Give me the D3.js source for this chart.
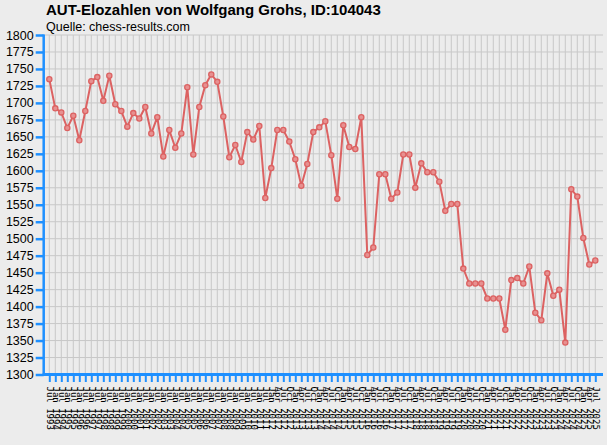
<!DOCTYPE html>
<html>
<head>
<meta charset="utf-8">
<script src="https://cdn.jsdelivr.net/npm/d3@7/dist/d3.min.js"></script>
<style>
  html, body { margin: 0; padding: 0; background: #ececec; }
  #chart { width: 607px; height: 445px; }
</style>
</head>
<body>
<div id="chart"></div>
<script>
// ==========================================================================
// DATEN
// ==========================================================================

const listen = [
  'Jul 1993',
  'Jan 1994', 'Jul 1994', 'Jan 1995', 'Jul 1995', 'Jan 1996', 'Jul 1996',
  'Jan 1997', 'Jul 1997', 'Jan 1998', 'Jul 1998', 'Jan 1999', 'Jul 1999',
  'Jan 2000', 'Jul 2000', 'Jan 2001', 'Jul 2001', 'Jan 2002', 'Jul 2002',
  'Jan 2003', 'Jul 2003', 'Jan 2004', 'Jul 2004', 'Jan 2005', 'Jul 2005',
  'Jan 2006', 'Jul 2006', 'Jan 2007', 'Jul 2007', 'Jan 2008', 'Jul 2008',
  'Jan 2009', 'Jul 2009', 'Jan 2010', 'Jul 2010', 'Jan 2011', 'Jul 2011',
  'Jan 2012', 'Apr 2012', 'Jul 2012', 'Oct 2012',
  'Jan 2013', 'Apr 2013', 'Jul 2013', 'Oct 2013',
  'Jan 2014', 'Apr 2014', 'Jul 2014', 'Oct 2014',
  'Jan 2015', 'Apr 2015', 'Jul 2015', 'Oct 2015',
  'Jan 2016', 'Apr 2016', 'Jul 2016', 'Oct 2016',
  'Jan 2017', 'Apr 2017', 'Jul 2017', 'Oct 2017',
  'Jan 2018', 'Apr 2018', 'Jul 2018', 'Oct 2018',
  'Jan 2019', 'Apr 2019', 'Jul 2019', 'Oct 2019',
  'Jan 2020', 'Apr 2020', 'Jul 2020', 'Oct 2020',
  'Jan 2021', 'Apr 2021', 'Jul 2021', 'Oct 2021',
  'Jan 2022', 'Apr 2022', 'Jul 2022', 'Oct 2022',
  'Jan 2023', 'Apr 2023', 'Jul 2023', 'Oct 2023',
  'Jan 2024', 'Apr 2024', 'Jul 2024', 'Oct 2024',
  'Jan 2025', 'Apr 2025', 'Jul 2025'
];

const elo = [
  1735, 1692, 1686, 1663, 1681, 1645, 1688, 1732, 1738, 1703,
  1740, 1698, 1688, 1665, 1685, 1677, 1694, 1655, 1679, 1621,
  1660, 1634, 1655, 1723, 1624, 1694, 1726, 1742, 1731, 1680,
  1620, 1638, 1613, 1657, 1646, 1666, 1560, 1604, 1660, 1660,
  1643, 1617, 1578, 1610, 1657, 1664, 1673, 1623, 1559, 1667,
  1635, 1632, 1679, 1476, 1487, 1595, 1595, 1559, 1568, 1624,
  1624, 1575, 1611, 1598, 1598, 1584, 1541, 1551, 1551, 1456,
  1434, 1434, 1434, 1412, 1412, 1412, 1366, 1439, 1442, 1434,
  1459, 1391, 1380, 1449, 1416, 1425, 1347, 1573, 1562, 1501,
  1462, 1468
];

const yTicks = [1300, 1325, 1350, 1375, 1400, 1425, 1450, 1475, 1500, 1525,
  1550, 1575, 1600, 1625, 1650, 1675, 1700, 1725, 1750, 1775, 1800];

const titel = 'AUT-Elozahlen von Wolfgang Grohs, ID:104043';
const quelle = 'Quelle: chess-results.com';

// ==========================================================================
// KONFIGURATION
// ==========================================================================

const CONFIG = {
  width: 607,
  height: 445,
  plot: { left: 43.7, right: 603, top: 35, bottom: 374.5 },
  firstX: 49.3,
  lastX: 595.3,
  background: '#ececec',
  grid: '#c8c8c8',
  axis: '#1e90ff',
  line: '#dc6262',
  font: '"Liberation Sans", Arial, sans-serif'
};

// ==========================================================================
// ZEICHNEN
// ==========================================================================

function drawChart() {
  const p = CONFIG.plot;

  const svg = d3.select('#chart')
    .append('svg')
    .attr('width', CONFIG.width)
    .attr('height', CONFIG.height)
    .style('display', 'block')
    .style('background', CONFIG.background);

  const x = d3.scalePoint()
    .domain(listen)
    .range([CONFIG.firstX, CONFIG.lastX]);

  const y = d3.scaleLinear()
    .domain([1300, 1800])
    .range([p.bottom, p.top]);

  // Gitter
  const grid = svg.append('g').attr('class', 'grid');
  grid.selectAll('.hgrid')
    .data(yTicks)
    .enter().append('line')
    .attr('x1', p.left).attr('x2', p.right)
    .attr('y1', d => y(d)).attr('y2', d => y(d))
    .attr('stroke', CONFIG.grid).attr('stroke-width', 1);
  grid.selectAll('.vgrid')
    .data(listen)
    .enter().append('line')
    .attr('x1', d => x(d)).attr('x2', d => x(d))
    .attr('y1', p.top).attr('y2', p.bottom)
    .attr('stroke', CONFIG.grid).attr('stroke-width', 1);

  // Linie
  const line = d3.line()
    .x((d, i) => x(listen[i]))
    .y(d => y(d));

  svg.append('path')
    .datum(elo)
    .attr('fill', 'none')
    .attr('stroke', CONFIG.line)
    .attr('stroke-width', 2)
    .attr('d', line);

  svg.selectAll('.punkt')
    .data(elo)
    .enter().append('circle')
    .attr('class', 'punkt')
    .attr('cx', (d, i) => x(listen[i]))
    .attr('cy', d => y(d))
    .attr('r', 2.6)
    .attr('fill', '#e79090')
    .attr('stroke', CONFIG.line)
    .attr('stroke-width', 1.3);

  // Y-Achse
  const yAxis = svg.append('g')
    .attr('transform', `translate(${p.left},0)`)
    .call(d3.axisLeft(y).tickValues(yTicks).tickFormat(d3.format('d'))
      .tickSize(8).tickSizeOuter(0).tickPadding(2));
  yAxis.select('.domain').remove();
  yAxis.selectAll('.tick line')
    .attr('stroke', CONFIG.axis).attr('stroke-width', 2.5);
  yAxis.selectAll('.tick text')
    .attr('fill', '#000')
    .style('font-family', CONFIG.font)
    .style('font-size', '12.5px');

  // X-Achse
  const xAxis = svg.append('g')
    .attr('transform', `translate(0,${p.bottom})`)
    .call(d3.axisBottom(x).tickSize(7.5).tickSizeOuter(0));
  xAxis.select('.domain').remove();
  xAxis.selectAll('.tick line')
    .attr('stroke', CONFIG.axis).attr('stroke-width', 2);
  xAxis.selectAll('.tick text')
    .attr('fill', '#000')
    .attr('transform', 'rotate(90)')
    .attr('x', 12)
    .attr('y', 0)
    .attr('dy', '0.35em')
    .attr('text-anchor', 'start')
    .style('font-family', '"DejaVu Sans Mono", monospace')
    .style('font-size', '9px');

  // Achsenlinien
  svg.append('line')
    .attr('x1', p.left).attr('x2', p.left)
    .attr('y1', p.top - 0.5).attr('y2', p.bottom + 1)
    .attr('stroke', CONFIG.axis).attr('stroke-width', 2.5);
  svg.append('line')
    .attr('x1', p.left - 1).attr('x2', p.right)
    .attr('y1', p.bottom).attr('y2', p.bottom)
    .attr('stroke', CONFIG.axis).attr('stroke-width', 3);

  // Titel
  svg.append('text')
    .attr('x', 46).attr('y', 15)
    .style('font-family', CONFIG.font)
    .style('font-size', '15px')
    .style('font-weight', 'bold')
    .attr('fill', '#000')
    .text(titel);

  svg.append('text')
    .attr('x', 46).attr('y', 31)
    .style('font-family', CONFIG.font)
    .style('font-size', '12.5px')
    .attr('fill', '#000')
    .text(quelle);
}

drawChart();
</script>
</body>
</html>
